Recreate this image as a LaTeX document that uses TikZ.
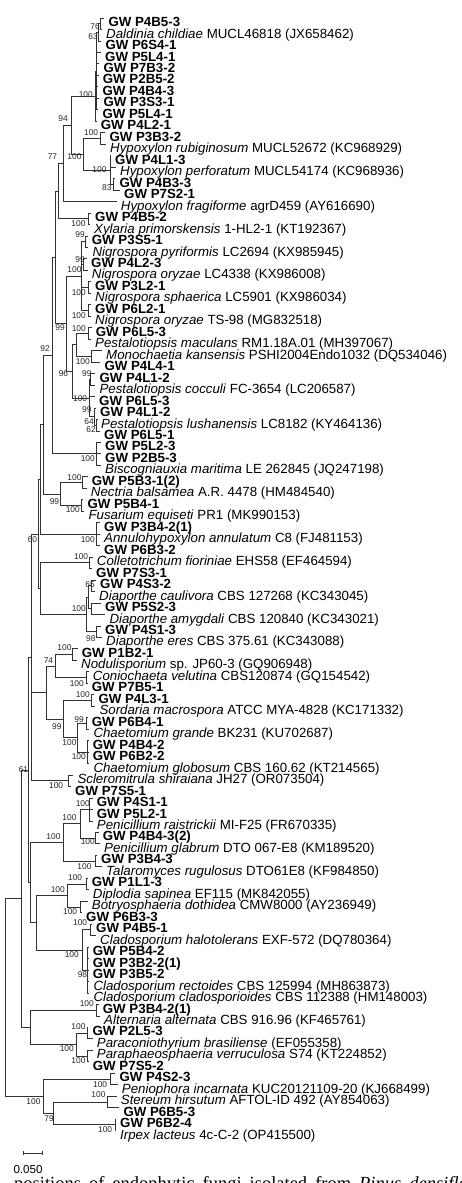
\documentclass[tikz,border=0pt]{standalone}
\usepackage{fontspec}
\setmainfont{Liberation Sans}
\newfontfamily\serifcap{Liberation Serif}
\usetikzlibrary{calc}
\tikzset{
  br/.style={draw=black!80, line width=0.8pt},
  lab/.style={inner sep=0pt, anchor=base west, font=\fontsize{13.3}{14}\selectfont},
  bsl/.style={inner sep=0pt, anchor=east, font=\fontsize{8.4}{9}\selectfont, text=black!85},
}
\newcommand\Ly[1]{(18+(#1-1)*11.47)}
\newcommand\leaf[3]{%
  \coordinate (L#1) at (#2, {-\Ly{#1}});
  \node[lab] (T#1) at ({#2+4}, {-\Ly{#1}-8.6}) {#3};
}
\newcommand\inode[4]{%
  \path let \p1=(#3), \p2=(#4) in coordinate (#1) at (#2pt, {0.5*(\y1+\y2)});
}
\newcommand\kids[2]{\foreach \ch in {#2}{\draw[br] (#1) |- (\ch);}}
\newcommand\bsv[4]{\node[bsl] (b#1) at (#2, -#3) {#4};}
\newcommand\gw[1]{\textbf{GW #1}}
\newcommand\spn[2]{\textit{#1} #2}
\begin{document}
\begin{tikzpicture}[x=1pt, y=1pt]
\useasboundingbox (0,0) rectangle (461,-1183);
% ---------- leaves ----------
\leaf{1}{104.3}{\gw{P4B5-3}}
\leaf{2}{102}{\spn{Daldinia childiae}{MUCL46818 (JX658462)}}
\leaf{3}{101.3}{\gw{P6S4-1}}
\leaf{4}{101}{\gw{P5L4-1}}
\leaf{5}{99.3}{\gw{P7B3-2}}
\leaf{6}{98.7}{\gw{P2B5-2}}
\leaf{7}{98.3}{\gw{P4B4-3}}
\leaf{8}{99.3}{\gw{P3S3-1}}
\leaf{9}{98.3}{\gw{P5L4-1}}
\leaf{10}{96.7}{\gw{P4L2-1}}
\leaf{11}{105.3}{\gw{P3B3-2}}
\leaf{12}{106}{\spn{Hypoxylon rubiginosum}{MUCL52672 (KC968929)}}
\leaf{13}{111}{\gw{P4L1-3}}
\leaf{14}{116}{\spn{Hypoxylon perforatum}{MUCL54174 (KC968936)}}
\leaf{15}{115.3}{\gw{P4B3-3}}
\leaf{16}{120}{\gw{P7S2-1}}
\leaf{17}{116.7}{\spn{Hypoxylon fragiforme}{agrD459 (AY616690)}}
\leaf{18}{91}{\gw{P4B5-2}}
\leaf{19}{90}{\spn{Xylaria primorskensis}{1-HL2-1 (KT192367)}}
\leaf{20}{87.7}{\gw{P3S5-1}}
\leaf{21}{88.3}{\spn{Nigrospora pyriformis}{LC2694 (KX985945)}}
\leaf{22}{87}{\gw{P4L2-3}}
\leaf{23}{87.7}{\spn{Nigrospora oryzae}{LC4338 (KX986008)}}
\leaf{24}{91}{\gw{P3L2-1}}
\leaf{25}{91}{\spn{Nigrospora sphaerica}{LC5901 (KX986034)}}
\leaf{26}{91}{\gw{P6L2-1}}
\leaf{27}{91}{\spn{Nigrospora oryzae}{TS-98 (MG832518)}}
\leaf{28}{91.7}{\gw{P6L5-3}}
\leaf{29}{91}{\spn{Pestalotiopsis maculans}{RM1.18A.01 (MH397067)}}
\leaf{30}{102}{\spn{Monochaetia kansensis}{PSHI2004Endo1032 (DQ534046)}}
\leaf{31}{100.3}{\gw{P4L4-1}}
\leaf{32}{95.3}{\gw{P4L1-2}}
\leaf{33}{95.3}{\spn{Pestalotiopsis cocculi}{FC-3654 (LC206587)}}
\leaf{34}{95}{\gw{P6L5-3}}
\leaf{35}{96}{\gw{P4L1-2}}
\leaf{36}{97}{\spn{Pestalotiopsis lushanensis}{LC8182 (KY464136)}}
\leaf{37}{100}{\gw{P6L5-1}}
\leaf{38}{101}{\gw{P5L2-3}}
\leaf{39}{101}{\gw{P2B5-3}}
\leaf{40}{101}{\spn{Biscogniauxia maritima}{LE 262845 (JQ247198)}}
\leaf{41}{87.7}{\gw{P5B3-1(2)}}
\leaf{42}{86.7}{\spn{Nectria balsamea}{A.R. 4478 (HM484540)}}
\leaf{43}{83.3}{\gw{P5B4-1}}
\leaf{44}{84.3}{\spn{Fusarium equiseti}{PR1 (MK990153)}}
\leaf{45}{100}{\gw{P3B4-2(1)}}
\leaf{46}{100}{\spn{Annulohypoxylon annulatum}{C8 (FJ481153)}}
\leaf{47}{100}{\gw{P6B3-2}}
\leaf{48}{92.7}{\spn{Colletotrichum fioriniae}{EHS58 (EF464594)}}
\leaf{49}{92}{\gw{P7S3-1}}
\leaf{50}{96}{\gw{P4S3-2}}
\leaf{51}{95}{\spn{Diaporthe caulivora}{CBS 127268 (KC343045)}}
\leaf{52}{101}{\gw{P5S2-3}}
\leaf{53}{105.3}{\spn{Diaporthe amygdali}{CBS 120840 (KC343021)}}
\leaf{54}{101}{\gw{P4S1-3}}
\leaf{55}{102}{\spn{Diaporthe eres}{CBS 375.61 (KC343088)}}
\leaf{56}{77.7}{\gw{P1B2-1}}
\leaf{57}{77}{\spn{Nodulisporium}{sp. JP60-3 (GQ906948)}}
\leaf{58}{88.7}{\spn{Coniochaeta velutina}{CBS120874 (GQ154542)}}
\leaf{59}{87.7}{\gw{P7B5-1}}
\leaf{60}{94.3}{\gw{P4L3-1}}
\leaf{61}{95.3}{\spn{Sordaria macrospora}{ATCC MYA-4828 (KC171332)}}
\leaf{62}{87.7}{\gw{P6B4-1}}
\leaf{63}{89.3}{\spn{Chaetomium grande}{BK231 (KU702687)}}
\leaf{64}{88.7}{\gw{P4B4-2}}
\leaf{65}{88.7}{\gw{P6B2-2}}
\leaf{66}{89.3}{\spn{Chaetomium globosum}{CBS 160.62 (KT214565)}}
\leaf{67}{73.3}{\spn{Scleromitrula shiraiana}{JH27 (OR073504)}}
\leaf{68}{71}{\gw{P7S5-1}}
\leaf{69}{92.7}{\gw{P4S1-1}}
\leaf{70}{92.7}{\gw{P5L2-1}}
\leaf{71}{92.7}{\spn{Penicillium raistrickii}{MI-F25 (FR670335)}}
\leaf{72}{98.7}{\gw{P4B4-3(2)}}
\leaf{73}{100}{\spn{Penicillium glabrum}{DTO 067-E8 (KM189520)}}
\leaf{74}{97}{\gw{P3B4-3}}
\leaf{75}{102}{\spn{Talaromyces rugulosus}{DTO61E8 (KF984850)}}
\leaf{76}{87.7}{\gw{P1L1-3}}
\leaf{77}{88.7}{\spn{Diplodia sapinea}{EF115 (MK842055)}}
\leaf{78}{87.7}{\spn{Botryosphaeria dothidea}{CMW8000 (AY236949)}}
\leaf{79}{82}{\gw{P6B3-3}}
\leaf{80}{92}{\gw{P4B5-1}}
\leaf{81}{96}{\spn{Cladosporium halotolerans}{EXF-572 (DQ780364)}}
\leaf{82}{88.7}{\gw{P5B4-2}}
\leaf{83}{88.7}{\gw{P3B2-2(1)}}
\leaf{84}{88.7}{\gw{P3B5-2}}
\leaf{85}{89.3}{\spn{Cladosporium rectoides}{CBS 125994 (MH863873)}}
\leaf{86}{89.3}{\spn{Cladosporium cladosporioides}{CBS 112388 (HM148003)}}
\leaf{87}{98.7}{\gw{P3B4-2(1)}}
\leaf{88}{100}{\spn{Alternaria alternata}{CBS 916.96 (KF465761)}}
\leaf{89}{88.3}{\gw{P2L5-3}}
\leaf{90}{92.7}{\spn{Paraconiothyrium brasiliense}{(EF055358)}}
\leaf{91}{92.7}{\spn{Paraphaeosphaeria verruculosa}{S74 (KT224852)}}
\leaf{92}{88.7}{\gw{P7S5-2}}
\leaf{93}{115.3}{\gw{P4S2-3}}
\leaf{94}{117.7}{\spn{Peniophora incarnata}{KUC20121109-20 (KJ668499)}}
\leaf{95}{116.7}{\spn{Stereum hirsutum}{AFTOL-ID 492 (AY854063)}}
\leaf{96}{119.3}{\gw{P6B5-3}}
\leaf{97}{116}{\gw{P6B2-4}}
\leaf{98}{116}{\spn{Irpex lacteus}{4c-C-2 (OP415500)}}
% ---------- internal nodes ----------
\inode{C}{100.7}{L1}{L2}
\inode{B}{98.7}{C}{L3}
\inode{Bp}{96.5}{B}{L9}
\inode{A}{95.7}{Bp}{L10}
\inode{E}{100}{L11}{L12}
\inode{G}{113.3}{L15}{L16}
\inode{F}{110}{L13}{G}
\inode{D}{83.3}{E}{F}
\inode{Nn}{71.7}{A}{D}
\inode{H}{63.3}{Nn}{L17}
\inode{Xa}{88.3}{L18}{L19}
\inode{Hh}{58.3}{H}{Xa}
\inode{Na}{85}{L20}{L21}
\inode{Nb}{83.5}{L22}{L23}
\inode{Nd}{88.3}{L24}{L25}
\inode{Ne}{88.3}{L26}{L27}
\inode{Nc}{81.7}{Na}{Ne}
\inode{Ma}{88.3}{L28}{L29}
\inode{Mb}{91.7}{L30}{L31}
\inode{Mo}{76}{Ma}{Mb}
\inode{Ta}{90.7}{L32}{L33}
\inode{Va}{96.7}{L36}{L37}
\inode{Ua}{94.3}{L35}{Va}
\inode{Sa}{89.3}{Ta}{Ua}
\inode{Ra}{72.7}{Mo}{Sa}
\inode{Pa}{66.7}{Nc}{Ra}
\inode{Xx}{55}{Hh}{Pa}
\inode{Bi}{96.7}{L38}{L40}
\inode{Nt}{52.5}{Xx}{Bi}
\inode{Ka}{82.7}{L41}{L42}
\inode{Kb}{81.7}{L43}{L44}
\inode{Kc}{60}{Ka}{Kb}
\inode{Ya}{43.3}{Nt}{Kc}
\inode{Kd}{96.7}{L45}{L47}
\inode{Yb}{40.7}{Ya}{Kd}
\inode{Co}{89.3}{L48}{L49}
\inode{Da}{91.5}{L50}{L51}
\inode{Db}{91.7}{L52}{L53}
\inode{Dc}{88.7}{Da}{Db}
\inode{Dd}{96.7}{L54}{L55}
\inode{De}{86.7}{Dc}{Dd}
\inode{Za}{40}{Co}{De}
\inode{Ns}{38.5}{Yb}{Za}
\inode{Pb}{72.7}{L56}{L57}
\inode{Cn}{86}{L58}{L59}
\inode{Nf}{55.5}{Pb}{Cn}
\inode{So}{91.7}{L60}{L61}
\inode{Ca}{86}{L62}{L63}
\inode{Cb}{87.3}{L64}{L66}
\inode{Cc}{77.3}{Ca}{Cb}
\inode{Nn9}{63.3}{So}{Cc}
\inode{Qa}{46}{Nf}{Nn9}
\inode{Sc}{68.3}{L67}{L68}
\inode{Nth}{31.7}{Ns}{Sc}
\inode{Pe}{89.3}{L69}{L71}
\inode{Pg}{95}{L72}{L73}
\inode{Pnb}{80}{Pe}{Pg}
\inode{Ta2}{95.5}{L74}{L75}
\inode{Pna}{63.3}{Pnb}{Ta2}
\inode{Di}{86}{L76}{L77}
\inode{Bo}{80.7}{L78}{L79}
\inode{Db2}{67.7}{Di}{Bo}
\inode{Cl1}{90}{L80}{L81}
\inode{Cl2}{87}{L82}{L86}
\inode{Cl0}{82.7}{Cl1}{Cl2}
\inode{Nts}{36}{Db2}{Cl0}
\inode{Pd}{30}{Pna}{Nts}
\inode{Nsx}{28.5}{Nth}{Pd}
\inode{Al}{96.7}{L87}{L88}
\inode{Pa1}{87.3}{L89}{L90}
\inode{Pa2}{87.3}{L91}{L92}
\inode{Pa0}{76.7}{Pa1}{Pa2}
\inode{Ap}{30}{Al}{Pa0}
\inode{Asc}{21.7}{Nsx}{Ap}
\inode{Pen}{110}{L93}{L94}
\inode{Ste}{107.3}{L95}{L96}
\inode{Irp}{115}{L97}{L98}
\inode{Bb}{53.3}{Ste}{Irp}
\inode{Bz}{43.3}{Pen}{Bb}
\inode{Root}{5}{Asc}{Bz}
% ---------- branches ----------
\kids{C}{L1,L2}
\kids{B}{C,L3}
\kids{Bp}{B,L4,L5,L6,L7,L8,L9}
\kids{A}{Bp,L10}
\kids{E}{L11,L12}
\kids{G}{L15,L16}
\kids{F}{L13,L14,G}
\kids{D}{E,F}
\kids{Nn}{A,D}
\kids{H}{Nn,L17}
\kids{Xa}{L18,L19}
\kids{Hh}{H,Xa}
\kids{Na}{L20,L21}
\kids{Nb}{L22,L23}
\kids{Nd}{L24,L25}
\kids{Ne}{L26,L27}
\kids{Nc}{Na,Nb,Nd,Ne}
\kids{Ma}{L28,L29}
\kids{Mb}{L30,L31}
\kids{Mo}{Ma,Mb}
\kids{Ta}{L32,L33}
\kids{Va}{L36,L37}
\kids{Ua}{L35,Va}
\kids{Sa}{Ta,L34,Ua}
\kids{Ra}{Mo,Sa}
\kids{Pa}{Nc,Ra}
\kids{Xx}{Hh,Pa}
\kids{Bi}{L38,L39,L40}
\kids{Nt}{Xx,Bi}
\kids{Ka}{L41,L42}
\kids{Kb}{L43,L44}
\kids{Kc}{Ka,Kb}
\kids{Ya}{Nt,Kc}
\kids{Kd}{L45,L46,L47}
\kids{Yb}{Ya,Kd}
\kids{Co}{L48,L49}
\kids{Da}{L50,L51}
\kids{Db}{L52,L53}
\kids{Dc}{Da,Db}
\kids{Dd}{L54,L55}
\kids{De}{Dc,Dd}
\kids{Za}{Co,De}
\kids{Ns}{Yb,Za}
\kids{Pb}{L56,L57}
\kids{Cn}{L58,L59}
\kids{Nf}{Pb,Cn}
\kids{So}{L60,L61}
\kids{Ca}{L62,L63}
\kids{Cb}{L64,L65,L66}
\kids{Cc}{Ca,Cb}
\kids{Nn9}{So,Cc}
\kids{Qa}{Nf,Nn9}
\kids{Sc}{L67,L68}
\kids{Nth}{Ns,Qa,Sc}
\kids{Pe}{L69,L70,L71}
\kids{Pg}{L72,L73}
\kids{Pnb}{Pe,Pg}
\kids{Ta2}{L74,L75}
\kids{Pna}{Pnb,Ta2}
\kids{Di}{L76,L77}
\kids{Bo}{L78,L79}
\kids{Db2}{Di,Bo}
\kids{Cl1}{L80,L81}
\kids{Cl2}{L82,L83,L84,L85,L86}
\kids{Cl0}{Cl1,Cl2}
\kids{Nts}{Db2,Cl0}
\kids{Pd}{Pna,Nts}
\kids{Nsx}{Nth,Pd}
\kids{Al}{L87,L88}
\kids{Pa1}{L89,L90}
\kids{Pa2}{L91,L92}
\kids{Pa0}{Pa1,Pa2}
\kids{Ap}{Al,Pa0}
\kids{Asc}{Nsx,Ap}
\kids{Pen}{L93,L94}
\kids{Ste}{L95,L96}
\kids{Irp}{L97,L98}
\kids{Bb}{Ste,Irp}
\kids{Bz}{Pen,Bb}
\kids{Root}{Asc,Bz}
% ---------- bootstrap values ----------
\bsv{C}{100}{26.3}{76}
\bsv{B}{98}{36.5}{63}
\bsv{A}{93}{94.5}{100}
\bsv{Nn}{68}{119}{94}
\bsv{E}{98.3}{132.5}{100}
\bsv{D}{81.7}{156.7}{100}
\bsv{F}{106.7}{170}{100}
\bsv{G}{111.7}{188}{83}
\bsv{H}{57.3}{156.7}{77}
\bsv{Xa}{85.7}{223.3}{100}
\bsv{Na}{85}{235}{99}
\bsv{Nb}{85}{259.3}{99}
\bsv{Nc}{81.7}{270}{100}
\bsv{Nd}{86}{292.7}{100}
\bsv{Ne}{86}{316}{100}
\bsv{Pa}{65}{327.3}{99}
\bsv{Ma}{86}{328.3}{100}
\bsv{Nt}{50}{348.5}{92}
\bsv{Mb}{90}{361.7}{100}
\bsv{Ra}{68.3}{373.3}{96}
\bsv{Ta}{91.7}{373.3}{99}
\bsv{Sa}{87.3}{398.3}{100}
\bsv{Ua}{91.7}{410}{99}
\bsv{Va}{94}{421.7}{64}
\bsv{Vb}{96}{430}{62}
\bsv{Bi}{95}{458.3}{100}
\bsv{Ka}{81.7}{477.3}{100}
\bsv{Kc}{59.3}{501.7}{99}
\bsv{Kb}{80}{510}{100}
\bsv{Kd}{95}{540}{100}
\bsv{Ns}{37.3}{540}{60}
\bsv{Co}{88.3}{557}{100}
\bsv{Da}{95}{584.2}{65}
\bsv{De}{86}{608.3}{100}
\bsv{Dd}{95.7}{638.3}{98}
\bsv{Pb}{71.7}{648}{100}
\bsv{Nf}{53.3}{661}{74}
\bsv{Cn}{84}{684}{100}
\bsv{So}{90}{694.5}{100}
\bsv{Ca}{84}{720}{99}
\bsv{Nn9}{61.7}{726.7}{99}
\bsv{Cc}{76.7}{742.7}{100}
\bsv{Cb}{86}{756.7}{100}
\bsv{Nsx}{28.3}{769.3}{61}
\bsv{Sc}{63.3}{786}{100}
\bsv{Pe}{90}{803.3}{100}
\bsv{Pnb}{76.7}{817.7}{100}
\bsv{Pna}{60.7}{836.7}{100}
\bsv{Pg}{95}{841.7}{100}
\bsv{Ta2}{91.7}{866.7}{100}
\bsv{Di}{82.3}{878}{100}
\bsv{Db2}{65}{890}{100}
\bsv{Bo}{77.3}{912}{100}
\bsv{Cl1}{87.3}{923}{100}
\bsv{Cl0}{79}{955}{100}
\bsv{Cl2}{87.3}{975}{98}
\bsv{Al}{94}{1003.3}{100}
\bsv{Pa1}{85.7}{1026.7}{100}
\bsv{Pa0}{74}{1048.3}{100}
\bsv{Pa2}{85.7}{1061}{100}
\bsv{Pen}{107.3}{1085}{100}
\bsv{Ste}{105.7}{1095}{100}
\bsv{Bz}{40.7}{1101.7}{100}
\bsv{Bb}{54}{1118.3}{79}
\bsv{Irp}{112.3}{1130}{100}
% ---------- scale bar ----------
\coordinate (s1) at (23.3,-1153.3);
\coordinate (s2) at (42.7,-1153.3);
\draw[br] (s1) -- (s2);
\draw[br] ([yshift=2pt]s1) -- ([yshift=-2pt]s1);
\draw[br] ([yshift=2pt]s2) -- ([yshift=-2pt]s2);
\node[inner sep=0pt, anchor=base west, font=\fontsize{11.6}{12}\selectfont] (sc) at (13.3,-1173.3) {0.050};
% ---------- caption (cut off by the lower edge) ----------
\node[inner sep=0pt, anchor=base west, font=\serifcap\fontsize{18.5}{20}\selectfont] (cap) at (14,-1189.8)
  {\spaceskip=8pt positions of endophytic fungi isolated from \textit{Pinus densiflora}};
\end{tikzpicture}
\end{document}
